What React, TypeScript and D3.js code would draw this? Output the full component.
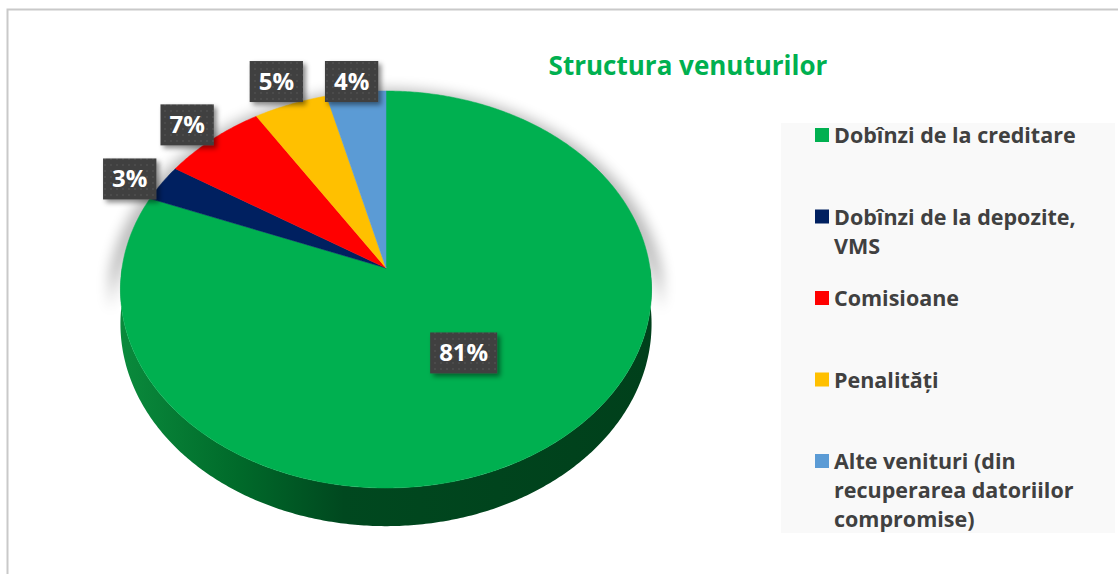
import React, { useEffect, useRef } from 'react';
import * as d3 from 'd3';

// revenue structure, shares in %
const categories = [
  'Dobînzi de la creditare',
  'Dobînzi de la depozite, VMS',
  'Comisioane',
  'Penalități',
  'Alte venituri (din recuperarea datoriilor compromise)',
];
const legendLines = [
  ['Dobînzi de la creditare'],
  ['Dobînzi de la depozite,', 'VMS'],
  ['Comisioane'],
  ['Penalități'],
  ['Alte venituri (din', 'recuperarea datoriilor', 'compromise)'],
];
const shares = [81, 3, 7, 5, 4];
const colors = ['#00b050', '#002060', '#ff0000', '#ffc000', '#5b9bd5'];
const title = 'Structura venuturilor';

const W = 1118;
const H = 574;

export default function App() {
  const svgRef = useRef<SVGSVGElement>(null);

  useEffect(() => {
    if (!svgRef.current) return;
    const svg = d3.select(svgRef.current);
    svg.selectAll('*').remove();

    const font = '"Open Sans", Lato, sans-serif';

    // perspective disk: far edge, centre, near edge on screen
    const cx = 386;
    const apexY = 268;
    const topY = 91;
    const frontY = 488;
    const Rx = 264;
    const depth = 34;
    const plotTop = 61; // labels are kept inside the plot area
    const C = (frontY + topY - 2 * apexY) / (topY - frontY);
    const A = apexY - topY + topY * C;

    const project = (ang: number, r: number, drop = 0): [number, number] => {
      const u = Math.sin(ang) * r;
      const v = -Math.cos(ang) * r;
      const w = 1 + C * v;
      return [cx + (Rx * u) / w, (A * v + apexY + drop) / w];
    };
    const rim = (a0: number, a1: number, r: number, drop = 0) => {
      const n = Math.max(2, Math.ceil(Math.abs(a1 - a0) / 0.01));
      return d3.range(n + 1).map(i => project(a0 + ((a1 - a0) * i) / n, r, drop));
    };
    const line = d3.line();

    const defs = svg.append('defs');
    const blur = defs.append('filter').attr('id', 'pieShadow')
      .attr('x', '-20%').attr('y', '-20%').attr('width', '140%').attr('height', '140%');
    blur.append('feGaussianBlur').attr('stdDeviation', 7);

    const boxShadow = defs.append('filter').attr('id', 'boxShadow')
      .attr('x', '-30%').attr('y', '-30%').attr('width', '160%').attr('height', '160%');
    boxShadow.append('feDropShadow')
      .attr('dx', 3).attr('dy', 3).attr('stdDeviation', 2.5)
      .attr('flood-color', '#000').attr('flood-opacity', 0.45);

    const dots = defs.append('pattern').attr('id', 'dots')
      .attr('patternUnits', 'userSpaceOnUse').attr('width', 6).attr('height', 6);
    dots.append('rect').attr('width', 6).attr('height', 6).attr('fill', '#404040');
    dots.append('circle').attr('cx', 3).attr('cy', 3).attr('r', 0.8).attr('fill', '#5c5c5c');

    const sideGrad = defs.append('linearGradient').attr('id', 'sideGrad')
      .attr('gradientUnits', 'userSpaceOnUse')
      .attr('x1', cx - Rx).attr('x2', cx + Rx).attr('y1', 0).attr('y2', 0);
    [['0%', '#0a8a3c'], ['22%', '#006a2a'], ['42%', '#00481f'], ['100%', '#00401b']]
      .forEach(([o, c]) => sideGrad.append('stop').attr('offset', o).attr('stop-color', c));

    // outer frame
    svg.append('rect')
      .attr('x', 7.5).attr('y', 9.5).attr('width', W + 20).attr('height', H + 20)
      .attr('fill', '#fff').attr('stroke', '#c9c9c9').attr('stroke-width', 2);

    // title
    svg.append('text')
      .attr('x', 688).attr('y', 75)
      .attr('text-anchor', 'middle')
      .attr('font-family', font).attr('font-weight', 700).attr('font-size', 26)
      .attr('fill', '#00b050')
      .text(title);

    // legend
    svg.append('rect')
      .attr('x', 781).attr('y', 123).attr('width', 334).attr('height', 410)
      .attr('fill', '#f9f9f9');
    const legend = svg.append('g');
    legendLines.forEach((lines, i) => {
      const base = 143 + i * 81.5;
      legend.append('rect')
        .attr('x', 815).attr('y', base - 15).attr('width', 14).attr('height', 14)
        .attr('fill', colors[i]);
      const t = legend.append('text')
        .attr('font-family', font).attr('font-weight', 700).attr('font-size', 21.5)
        .attr('fill', '#404040');
      lines.forEach((l, j) => {
        t.append('tspan').attr('x', 834).attr('y', base + j * 29).text(l);
      });
    });

    const pie = d3.pie<number>().sort(null).value(d => d);
    const arcs = pie(shares);

    // soft shadow beneath the pie
    const shadow = svg.append('g').attr('filter', 'url(#pieShadow)').attr('opacity', 0.28);
    const silhouette = [
      ...rim(Math.PI / 2, -Math.PI / 2, 1.045, 6),
      ...rim(-Math.PI / 2, Math.PI / 2, 1.045, depth + 10),
    ];
    shadow.append('path').attr('d', line(silhouette) + 'Z').attr('fill', '#000');

    // side wall (front half)
    const side = [
      ...rim(Math.PI / 2, (3 * Math.PI) / 2, 1, 0),
      ...rim((3 * Math.PI) / 2, Math.PI / 2, 1, depth),
    ];
    svg.append('path').attr('d', line(side) + 'Z').attr('fill', 'url(#sideGrad)');

    // top face slices
    const apex: [number, number] = [cx, apexY];
    svg.append('g').selectAll('path')
      .data(arcs)
      .join('path')
      .attr('d', d => line([apex, ...rim(d.startAngle, d.endAngle, 1)]) + 'Z')
      .attr('fill', (d, i) => colors[i])
      .attr('stroke', (d, i) => colors[i])
      .attr('stroke-width', 0.5);

    // data labels
    const labels = svg.append('g');
    const bh = 41;
    arcs.forEach((d) => {
      const mid = (d.startAngle + d.endAngle) / 2;
      let x: number;
      let y: number;
      if (d.value > 50) {
        [x, y] = project(mid, 0.5);
      } else {
        const [ex, ey] = project(mid, 1);
        x = ex + 36 * Math.sin(mid);
        y = Math.max(ey - 40 * Math.cos(mid) + 14, plotTop + bh / 2);
      }
      const g = labels.append('g');
      const rect = g.append('rect').attr('fill', 'url(#dots)').attr('filter', 'url(#boxShadow)');
      const t = g.append('text')
        .attr('x', x).attr('y', y + 8.5)
        .attr('text-anchor', 'middle')
        .attr('font-family', font).attr('font-weight', 700).attr('font-size', 24)
        .attr('fill', '#fff')
        .text(`${d.value}%`);
      const tw = (t.node() as SVGTextElement).getComputedTextLength();
      const bw = tw + 18;
      rect.attr('x', x - bw / 2).attr('y', y - bh / 2).attr('width', bw).attr('height', bh);
    });
  }, []);

  return (
    <svg
      ref={svgRef}
      width={W}
      height={H}
      style={{ position: 'absolute', left: 0, top: 0, background: '#fff' }}
    />
  );
}
